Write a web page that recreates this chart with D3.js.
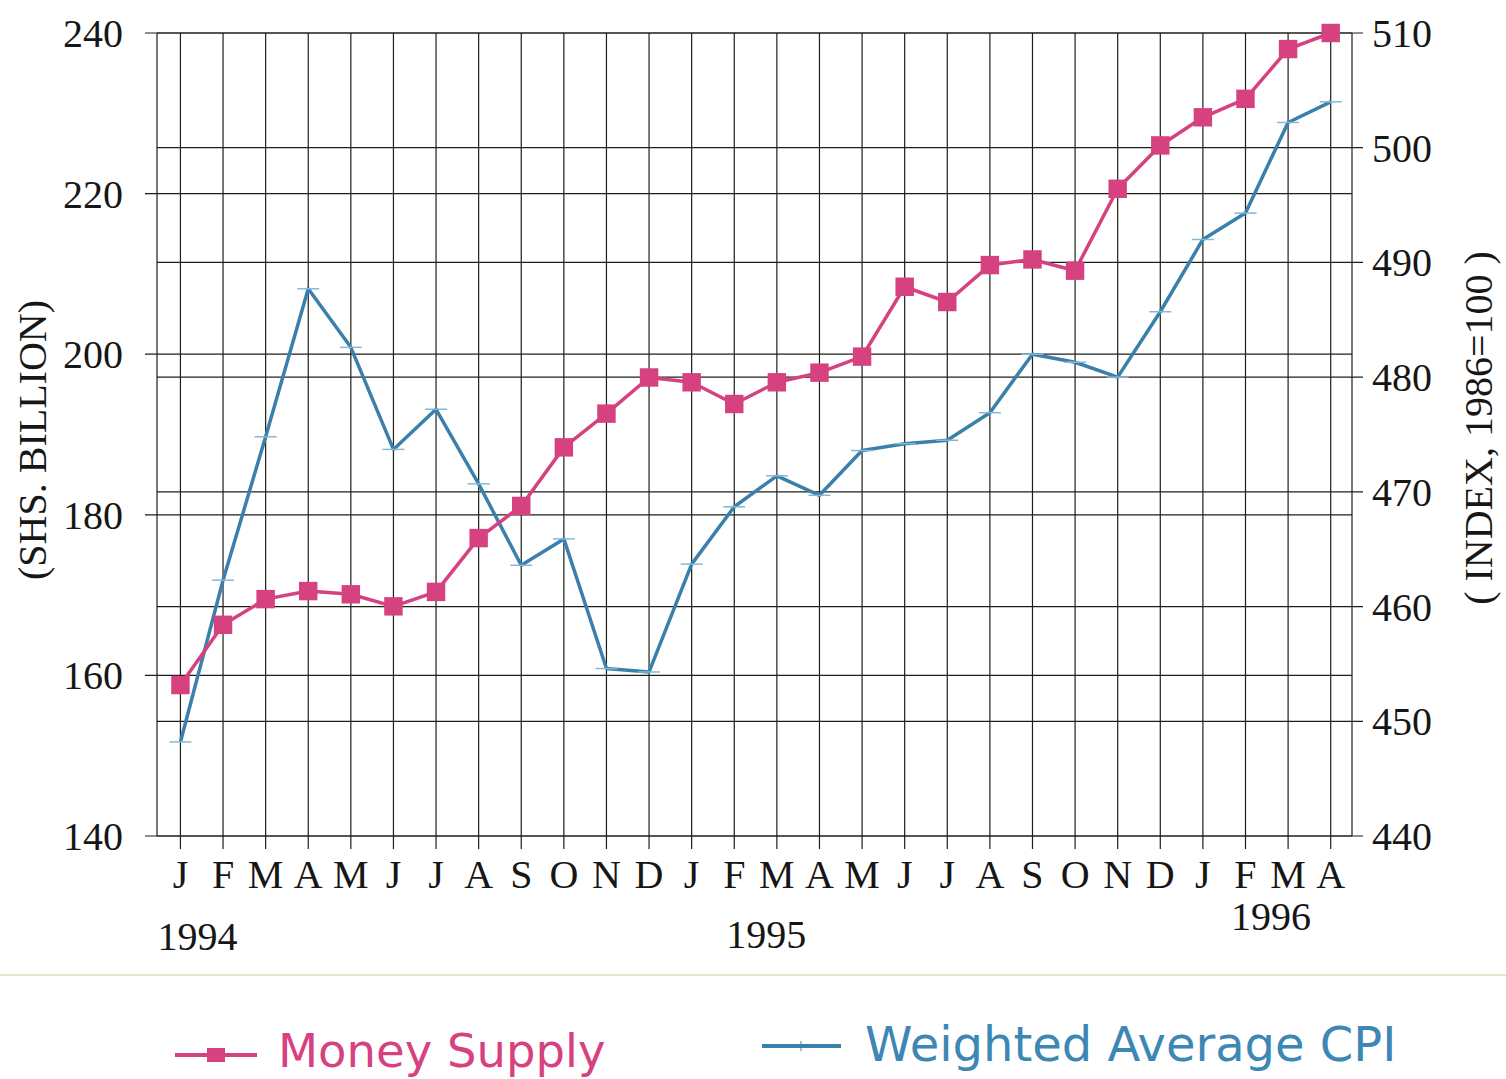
<!DOCTYPE html>
<html>
<head>
<meta charset="utf-8">
<script src="https://cdn.jsdelivr.net/npm/d3@7"></script>
<style>
  html, body { margin: 0; padding: 0; background: #fff; }
  svg { display: block; }
  .serif { font-family: "Liberation Serif", "DejaVu Serif", serif; fill: #161616; }
  .legend-text { font-family: "DejaVu Sans", Lato, sans-serif; }
</style>
</head>
<body>
<script>
// months from Jan 1994 to Apr 1996
const months = ["J", "F", "M", "A", "M", "J", "J", "A", "S", "O", "N", "D",
                "J", "F", "M", "A", "M", "J", "J", "A", "S", "O", "N", "D",
                "J", "F", "M", "A"];
const years = ["1994", "1995", "1996"];

// Money supply, SHS billion (left axis)
const moneySupply = [158.8, 166.3, 169.5, 170.5, 170.1, 168.6, 170.4, 177.1, 181.1, 188.4, 192.6, 197.1,
                     196.5, 193.8, 196.5, 197.7, 199.7, 208.4, 206.5, 211.1, 211.8, 210.4, 220.6, 226.0,
                     229.5, 231.8, 238.0, 240.0];

// Weighted average CPI, index 1986=100 (right axis)
const cpi = [448.2, 462.3, 474.8, 487.7, 482.6, 473.7, 477.2, 470.7, 463.6, 465.9, 454.6, 454.3,
             463.7, 468.7, 471.4, 469.7, 473.6, 474.2, 474.5, 476.9, 482.0, 481.3, 480.0, 485.7,
             492.0, 494.3, 502.2, 504.0];

const leftTicks = [140, 160, 180, 200, 220, 240];
const rightTicks = [440, 450, 460, 470, 480, 490, 500, 510];

const width = 1506, height = 1079;
const pink = "#d6417f";
const blue = "#3a80ab";
const gridColor = "#1e1e18";

const plot = { left: 157, right: 1352, top: 33, bottom: 836 };

const x = d3.scaleLinear().domain([-0.55, 27.5]).range([plot.left, plot.right]);
const yL = d3.scaleLinear().domain([140, 240]).range([plot.bottom, plot.top]);
const yR = d3.scaleLinear().domain([440, 510]).range([plot.bottom, plot.top]);

const svg = d3.select("body").append("svg")
    .attr("width", width)
    .attr("height", height);

// grid: horizontal lines for both axes
const grid = svg.append("g").attr("stroke", gridColor).attr("stroke-width", 1.2);

grid.selectAll("line.hl")
    .data(leftTicks)
    .enter().append("line")
    .attr("x1", plot.left - 12).attr("x2", plot.right)
    .attr("y1", d => yL(d)).attr("y2", d => yL(d));

grid.selectAll("line.hr")
    .data(rightTicks)
    .enter().append("line")
    .attr("x1", plot.left).attr("x2", plot.right + 11)
    .attr("y1", d => yR(d)).attr("y2", d => yR(d));

// vertical lines at every month, running a little below the frame
grid.selectAll("line.v")
    .data(months)
    .enter().append("line")
    .attr("x1", (d, i) => x(i)).attr("x2", (d, i) => x(i))
    .attr("y1", plot.top).attr("y2", plot.bottom + 13);

grid.append("line")
    .attr("x1", plot.left).attr("x2", plot.left)
    .attr("y1", plot.top).attr("y2", plot.bottom);
grid.append("line")
    .attr("x1", plot.right).attr("x2", plot.right)
    .attr("y1", plot.top).attr("y2", plot.bottom);

// axis labels
svg.append("g").selectAll("text")
    .data(leftTicks)
    .enter().append("text")
    .attr("class", "serif")
    .attr("x", plot.left - 34)
    .attr("y", d => yL(d))
    .attr("dy", "0.35em")
    .attr("text-anchor", "end")
    .attr("font-size", 40)
    .text(d => d);

svg.append("g").selectAll("text")
    .data(rightTicks)
    .enter().append("text")
    .attr("class", "serif")
    .attr("x", plot.right + 20)
    .attr("y", d => yR(d))
    .attr("dy", "0.35em")
    .attr("font-size", 40)
    .text(d => d);

svg.append("g").selectAll("text")
    .data(months)
    .enter().append("text")
    .attr("class", "serif")
    .attr("x", (d, i) => x(i))
    .attr("y", 888)
    .attr("text-anchor", "middle")
    .attr("font-size", 40)
    .text(d => d);

// year labels sit under the months, not exactly on January
const yearPos = [[0.4, 950], [13.75, 948], [25.6, 930]];
svg.append("g").selectAll("text")
    .data(years)
    .enter().append("text")
    .attr("class", "serif")
    .attr("x", (d, i) => x(yearPos[i][0]))
    .attr("y", (d, i) => yearPos[i][1])
    .attr("text-anchor", "middle")
    .attr("font-size", 40)
    .text(d => d);

svg.append("text")
    .attr("class", "serif")
    .attr("transform", "translate(46, 440) rotate(-90)")
    .attr("text-anchor", "middle")
    .attr("font-size", 40)
    .text("(SHS. BILLION)");

svg.append("text")
    .attr("class", "serif")
    .attr("transform", "translate(1492, 428) rotate(-90)")
    .attr("text-anchor", "middle")
    .attr("font-size", 40)
    .text("( INDEX, 1986=100 )");

// CPI line
const cpiLine = d3.line()
    .x((d, i) => x(i))
    .y(d => yR(d));

svg.append("path")
    .datum(cpi)
    .attr("d", cpiLine)
    .attr("fill", "none")
    .attr("stroke", blue)
    .attr("stroke-width", 3.5)
    .attr("stroke-linejoin", "round");

svg.append("g").selectAll("line")
    .data(cpi)
    .enter().append("line")
    .attr("x1", (d, i) => x(i) - 11).attr("x2", (d, i) => x(i) + 11)
    .attr("y1", d => yR(d)).attr("y2", d => yR(d))
    .attr("stroke", "#86b8d6")
    .attr("stroke-width", 1.5);

// money supply line with square markers
const msLine = d3.line()
    .x((d, i) => x(i))
    .y(d => yL(d));

svg.append("path")
    .datum(moneySupply)
    .attr("d", msLine)
    .attr("fill", "none")
    .attr("stroke", pink)
    .attr("stroke-width", 3.5)
    .attr("stroke-linejoin", "round");

const square = d3.symbol(d3.symbolSquare).size(340);
svg.append("g").selectAll("path")
    .data(moneySupply)
    .enter().append("path")
    .attr("d", square)
    .attr("transform", (d, i) => `translate(${x(i)}, ${yL(d)})`)
    .attr("fill", pink);

// faint rule above the legend
svg.append("line")
    .attr("x1", 0).attr("x2", width)
    .attr("y1", 975).attr("y2", 975)
    .attr("stroke", "#e9e2d2")
    .attr("stroke-width", 2);

// legend
const legend = svg.append("g");
legend.append("line")
    .attr("x1", 175).attr("x2", 257)
    .attr("y1", 1055).attr("y2", 1055)
    .attr("stroke", pink).attr("stroke-width", 4);
legend.append("rect")
    .attr("x", 207).attr("y", 1048)
    .attr("width", 18).attr("height", 14)
    .attr("fill", pink);
legend.append("text")
    .attr("class", "legend-text")
    .attr("x", 278).attr("y", 1067)
    .attr("font-size", 46.5)
    .attr("fill", pink)
    .text("Money Supply");

legend.append("line")
    .attr("x1", 762).attr("x2", 841)
    .attr("y1", 1046).attr("y2", 1046)
    .attr("stroke", blue).attr("stroke-width", 4);
legend.append("line")
    .attr("x1", 801).attr("x2", 801)
    .attr("y1", 1041).attr("y2", 1051)
    .attr("stroke", blue).attr("stroke-width", 1);
legend.append("text")
    .attr("class", "legend-text")
    .attr("x", 865).attr("y", 1061)
    .attr("font-size", 48)
    .attr("fill", "#3d87b4")
    .text("Weighted Average CPI");
</script>
</body>
</html>
